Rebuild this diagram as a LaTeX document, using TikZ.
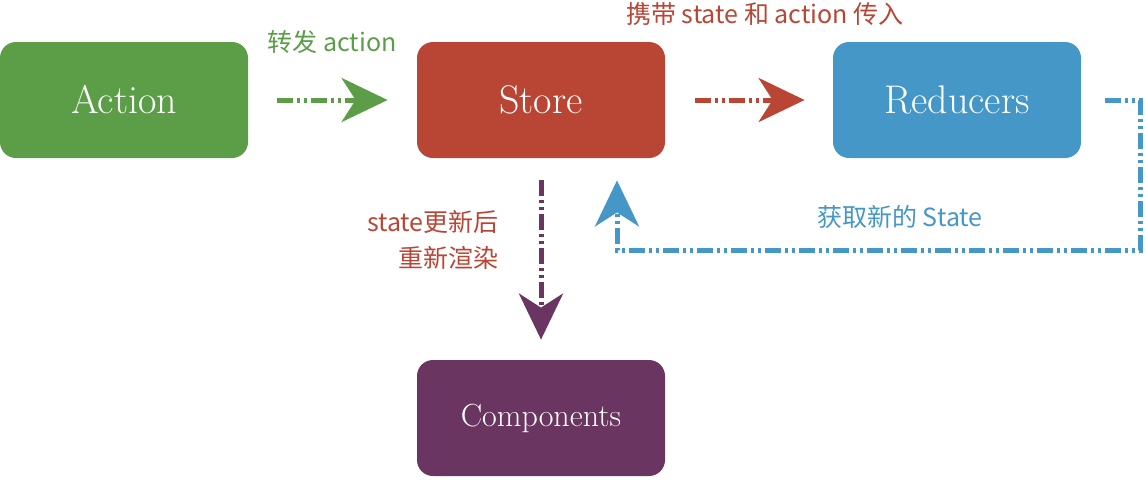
\documentclass[tikz,border=0pt]{standalone}
\usepackage{fontspec}
\usepackage{tikz}
\usetikzlibrary{arrows.meta}
\newfontfamily\cjk{Noto Sans CJK SC}
\definecolor{FlowGreen}{HTML}{5B9E47}
\definecolor{FlowRed}{HTML}{B94535}
\definecolor{FlowBlue}{HTML}{4597C8}
\definecolor{FlowPurple}{HTML}{6A3560}
\tikzset{
  box/.style={draw=none, rounded corners=8pt, minimum width=124pt,
    minimum height=58pt, inner sep=0pt, text=white, font=\fontsize{20}{24}\selectfont},
  flow/.style={line width=2.5pt,
    dash pattern=on 8pt off 2pt on 1.5pt off 2pt on 1.5pt off 2pt,
    -{Stealth[length=23pt, width=22pt, inset=7pt]}},
  lbl/.style={font=\cjk\fontsize{12.5}{16}\selectfont, inner sep=0pt}
}
\begin{document}
\begin{tikzpicture}[x=0.5pt,y=-0.5pt]
  \useasboundingbox (0,0) rectangle (1145,479);

  % ----- BOXES -----
  \node[box, fill=FlowGreen]  (action)   at (124,100) {Action};
  \node[box, fill=FlowRed]    (store)    at (541,100) {Store};
  \node[box, fill=FlowBlue]   (reducers) at (957,100) {Reducers};
  \node[box, fill=FlowPurple, font=\fontsize{16}{20}\selectfont]
    (components) at (541,418) {Components};

  % ----- CONNECTORS -----
  \draw[flow, FlowGreen, shorten <=14.5pt, shorten >=14.5pt] (action.east) -- (store.west);
  \draw[flow, FlowRed, shorten <=15pt, shorten >=14pt] (store.east) -- (reducers.west);
  \draw[flow, FlowPurple, shorten <=11pt, shorten >=10pt] (store.south) -- (components.north);

  % loop back from reducers to store
  \coordinate (turn) at (1140,250);
  \coordinate (storeIn) at ([xshift=38pt]store.south);
  \draw[flow, FlowBlue, shorten <=12pt, shorten >=11pt]
    (reducers.east) -- (reducers.east -| turn) -- (turn) -- (turn -| storeIn) -- (storeIn);

  % ----- LABELS -----
  \node[lbl, text=FlowGreen] (fwd) at (332,42) {转发 action};
  \node[lbl, text=FlowRed] (pass) at (765,14) {携带 state 和 action 传入};
  \node[lbl, text=FlowRed, align=right, anchor=east] (rerender) at (499,240)
    {state更新后\\[2pt]重新渲染};
  \node[lbl, text=FlowBlue] (fetch) at (900,217) {获取新的 State};
\end{tikzpicture}
\end{document}
